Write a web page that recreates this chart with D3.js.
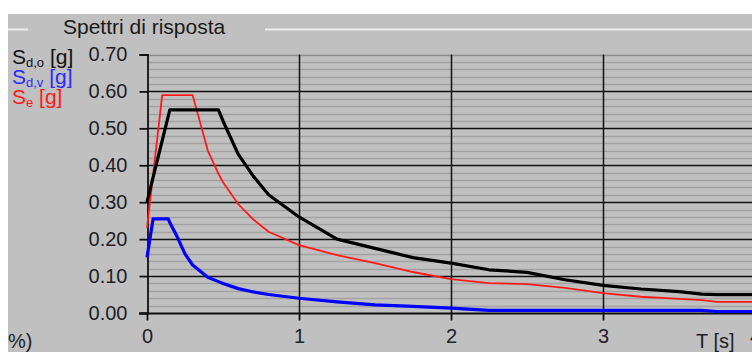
<!DOCTYPE html>
<html>
<head>
<meta charset="utf-8">
<script src="https://cdn.jsdelivr.net/npm/d3@7"></script>
<style>
  body { margin: 0; background: #fff; }
  svg { display: block; font-family: "Liberation Sans", Arial, sans-serif; }
</style>
</head>
<body>
<svg id="chart" width="752" height="352"></svg>
<script>
// periods T [s]
var periods = [0, 0.04, 0.1, 0.14, 0.15, 0.2, 0.25, 0.3, 0.4, 0.47, 0.5, 0.6, 0.7, 0.8, 1.0, 1.25, 1.5, 1.75, 2.0, 2.25, 2.5, 2.75, 3.0, 3.25, 3.5, 3.65, 3.75, 4.0];

// S_d,o [g] (black)
var sdo = [0.30, 0.367, 0.467, 0.533, 0.55, 0.55, 0.55, 0.55, 0.55, 0.55, 0.52, 0.43, 0.37, 0.32, 0.26, 0.20, 0.175, 0.15, 0.135, 0.117, 0.11, 0.09, 0.075, 0.065, 0.058, 0.051, 0.05, 0.05];
// S_d,v [g] (blue)
var sdv = [0.15, 0.255, 0.255, 0.255, 0.245, 0.205, 0.16, 0.13, 0.097, 0.085, 0.08, 0.066, 0.057, 0.05, 0.04, 0.03, 0.022, 0.018, 0.013, 0.007, 0.007, 0.007, 0.007, 0.007, 0.007, 0.007, 0.004, 0.004];
// S_e [g] (red)
var se = [0.23, 0.374, 0.59, 0.59, 0.59, 0.59, 0.59, 0.59, 0.44, 0.377, 0.354, 0.295, 0.253, 0.22, 0.184, 0.157, 0.135, 0.111, 0.092, 0.081, 0.078, 0.068, 0.054, 0.044, 0.038, 0.035, 0.03, 0.03];

var yTicks = [0, 0.1, 0.2, 0.3, 0.4, 0.5, 0.6, 0.7];
var xTicks = [0, 1, 2, 3, 4];

var svg = d3.select("#chart");

// panel background
svg.append("rect")
  .attr("x", 8).attr("y", 14)
  .attr("width", 744).attr("height", 338)
  .attr("fill", "#c0c0c0");

// group box line
svg.append("line").attr("x1", 8).attr("x2", 28).attr("y1", 29.5).attr("y2", 29.5)
  .attr("stroke", "#ececec").attr("stroke-width", 2);
svg.append("line").attr("x1", 265).attr("x2", 752).attr("y1", 29.5).attr("y2", 29.5)
  .attr("stroke", "#ececec").attr("stroke-width", 2);

svg.append("text")
  .attr("x", 63).attr("y", 34)
  .attr("font-size", 21)
  .attr("fill", "#1a1a1a")
  .text("Spettri di risposta");

var x = d3.scaleLinear().domain([0, 4]).range([147, 755]);
var y = d3.scaleLinear().domain([0, 0.7]).range([313, 54.5]);

// minor horizontal grid
var minor = d3.range(0.02, 0.7, 0.02).filter(function(v) {
  return Math.abs(v * 10 - Math.round(v * 10)) > 0.01;
});
svg.append("g").selectAll("line")
  .data(minor)
  .enter().append("line")
  .attr("x1", x(0)).attr("x2", 752)
  .attr("y1", function(d) { return Math.round(y(d)) + 0.5; })
  .attr("y2", function(d) { return Math.round(y(d)) + 0.5; })
  .attr("stroke", "#a2a2a2")
  .attr("stroke-width", 1.6);

// major horizontal grid
svg.append("g").selectAll("line")
  .data(yTicks.slice(1))
  .enter().append("line")
  .attr("x1", x(0)).attr("x2", 752)
  .attr("y1", function(d) { return Math.round(y(d)) + 0.5; })
  .attr("y2", function(d) { return Math.round(y(d)) + 0.5; })
  .attr("stroke", function(d) { return d > 0.65 ? "#8a8a8a" : "#111"; })
  .attr("stroke-width", 1.5);

// vertical grid
svg.append("g").selectAll("line")
  .data(xTicks.slice(1))
  .enter().append("line")
  .attr("x1", function(d) { return Math.round(x(d)) + 0.5; })
  .attr("x2", function(d) { return Math.round(x(d)) + 0.5; })
  .attr("y1", y(0.7)).attr("y2", y(0))
  .attr("stroke", "#111")
  .attr("stroke-width", 1.5);

// axes
var yAxis = d3.axisLeft(y)
  .tickValues(yTicks)
  .tickSize(8)
  .tickPadding(12)
  .tickFormat(d3.format(".2f"));

var gy = svg.append("g")
  .attr("transform", "translate(" + (Math.round(x(0)) + 0.5) + ",0)")
  .call(yAxis);

var xAxis = d3.axisBottom(x)
  .tickValues(xTicks)
  .tickSize(7)
  .tickPadding(8)
  .tickFormat(d3.format("d"));

var gx = svg.append("g")
  .attr("transform", "translate(0," + (Math.round(y(0)) + 0.5) + ")")
  .call(xAxis);

[gx, gy].forEach(function(g) {
  g.select(".domain").attr("stroke", "#111").attr("stroke-width", 1.8);
  g.selectAll(".tick line").attr("stroke", "#111").attr("stroke-width", 1.8);
  g.selectAll(".tick text")
    .attr("font-size", 20)
    .attr("font-family", "Liberation Sans, Arial, sans-serif")
    .attr("fill", "#1e1e28");
});
gx.select(".domain").attr("d", "M139,0H752");

// curves
var line = d3.line()
  .x(function(d, i) { return x(periods[i]); })
  .y(function(d) { return y(d); });

svg.append("path").datum(se)
  .attr("d", line).attr("fill", "none")
  .attr("stroke", "#ff1a1a").attr("stroke-width", 1.8)
  .attr("stroke-linejoin", "round");

svg.append("path").datum(sdo)
  .attr("d", line).attr("fill", "none")
  .attr("stroke", "#000").attr("stroke-width", 3.2)
  .attr("stroke-linejoin", "round");

svg.append("path").datum(sdv)
  .attr("d", line).attr("fill", "none")
  .attr("stroke", "#0000ff").attr("stroke-width", 3.2)
  .attr("stroke-linejoin", "round");

// series labels
var labels = [
  { name: "S", sub: "d,o", color: "#111", y: 64 },
  { name: "S", sub: "d,v", color: "#2a2aff", y: 84 },
  { name: "S", sub: "e", color: "#ff1a1a", y: 104 }
];
labels.forEach(function(l) {
  var t = svg.append("text")
    .attr("x", 12).attr("y", l.y)
    .attr("font-size", 21)
    .attr("fill", l.color);
  t.append("tspan").text(l.name);
  t.append("tspan").attr("font-size", 13).attr("dy", 3).text(l.sub);
  t.append("tspan").attr("dy", -3).text(" [g]");
});

// axis title
svg.append("text")
  .attr("x", 696).attr("y", 348)
  .attr("font-size", 20)
  .attr("fill", "#1e1e28")
  .text("T [s]");

// clipped note at bottom left
svg.append("text")
  .attr("x", 8).attr("y", 348)
  .attr("font-size", 20)
  .attr("fill", "#1e1e28")
  .text("%)");
</script>
</body>
</html>
